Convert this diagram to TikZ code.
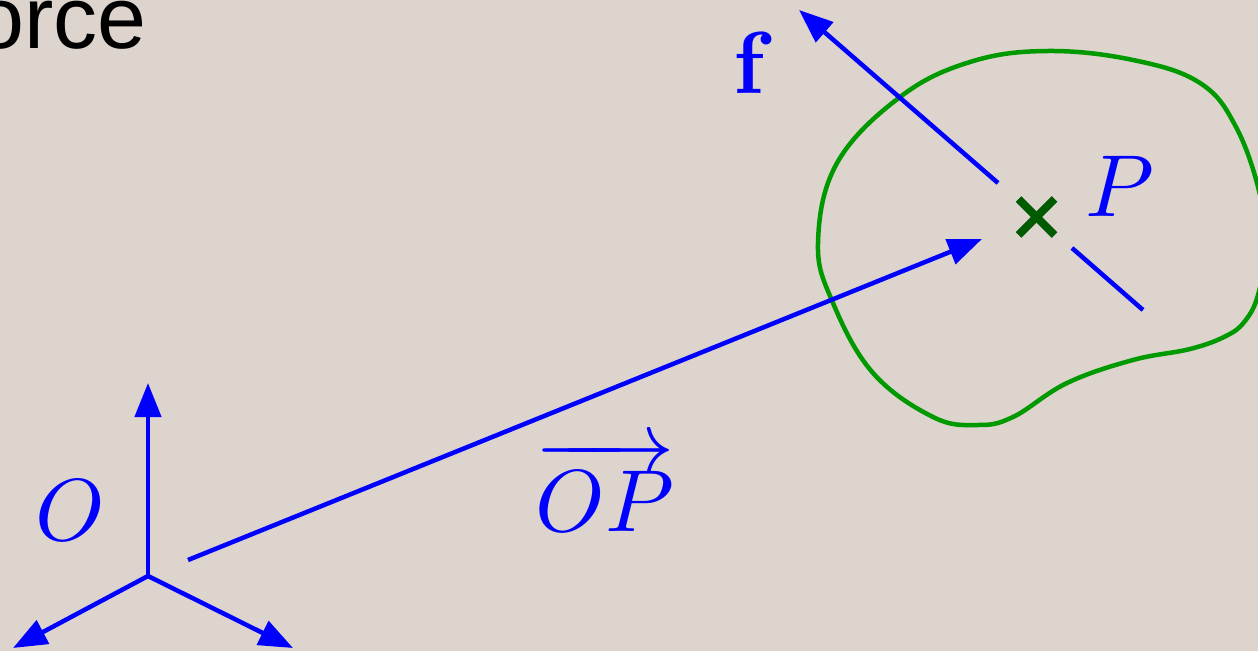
\RequirePackage{fix-cm}
\documentclass[tikz,border=0pt]{standalone}
\usepackage{fontspec}
\DeclareFontShape{OML}{cmm}{m}{it}{<->cmmi10}{}
\DeclareFontShape{OMS}{cmsy}{m}{n}{<->cmsy10}{}
\DeclareFontShape{OT1}{cmr}{bx}{n}{<->cmbx10}{}
\newfontfamily\labelsans{Liberation Sans}
\usetikzlibrary{arrows.meta}
\definecolor{bgc}{RGB}{221,212,206}
\definecolor{vecblue}{RGB}{0,0,255}
\definecolor{blobgreen}{RGB}{0,153,0}
\definecolor{crossgreen}{RGB}{0,90,0}
\tikzset{
  vec/.style={draw=vecblue, line width=4.5pt},
  vecarrow/.style={vec, -{Triangle[length=34pt,width=26pt]}},
  mlabel/.style={text=vecblue, inner sep=0pt, font=\fontsize{88}{88}\selectfont},
  crossline/.style={draw=crossgreen, line width=8pt},
}
\begin{document}
\begin{tikzpicture}[x=1pt,y=-1pt]
\fill[bgc] (0,0) rectangle (1258,651);
\clip (0,0) rectangle (1258,651);
% title fragment
\node[anchor=base east, inner sep=0pt, font=\labelsans\fontsize{88}{88}\selectfont] (title) at (147,48) {orce};
% axes at O
\coordinate (o) at (148,576);
\coordinate (ax1) at (148,383);
\coordinate (ax2) at (13,648);
\coordinate (ax3) at (293,648);
\draw[vecarrow] (o) -- (ax1);
\draw[vecarrow] (o) -- (ax2);
\draw[vecarrow] (o) -- (ax3);
\node[mlabel] (Olab) at (70,510) {$O$};
% body
\draw[blobgreen, line width=4.5pt] plot[smooth cycle, tension=0.65] coordinates {
  (818,243) (837,163) (900,97) (970,62) (1047,51) (1133,60) (1200,83)
  (1236,127) (1260,195) (1265,250) (1258,295) (1245,321) (1226,336)
  (1190,349) (1133,360) (1067,383) (1013,417) (977,425) (933,417)
  (873,373) (833,303)};
% OP vector
\coordinate (opstart) at (188,560);
\coordinate (opend) at (982,239);
\draw[vecarrow] (opstart) -- (opend);
\node[mlabel] (OPlab) at (605,486) {$\overrightarrow{OP}$};
% force line
\coordinate (f1) at (998,183);
\coordinate (ftip) at (799,10);
\coordinate (f2) at (1072,248);
\coordinate (f3) at (1143,310);
\draw[vecarrow] (f1) -- (ftip);
\draw[vec] (f2) -- (f3);
\node[mlabel] (flab) at (749,63) {\usefont{OT1}{cmr}{bx}{n}f};
% point P
\coordinate (P) at (1036.5,217);
\draw[crossline] ([shift={(-18,-18)}]P) -- ([shift={(18,18)}]P);
\draw[crossline] ([shift={(-18,18)}]P) -- ([shift={(18,-18)}]P);
\node[mlabel] (Plab) at (1120,186) {$P$};
\end{tikzpicture}
\end{document}
